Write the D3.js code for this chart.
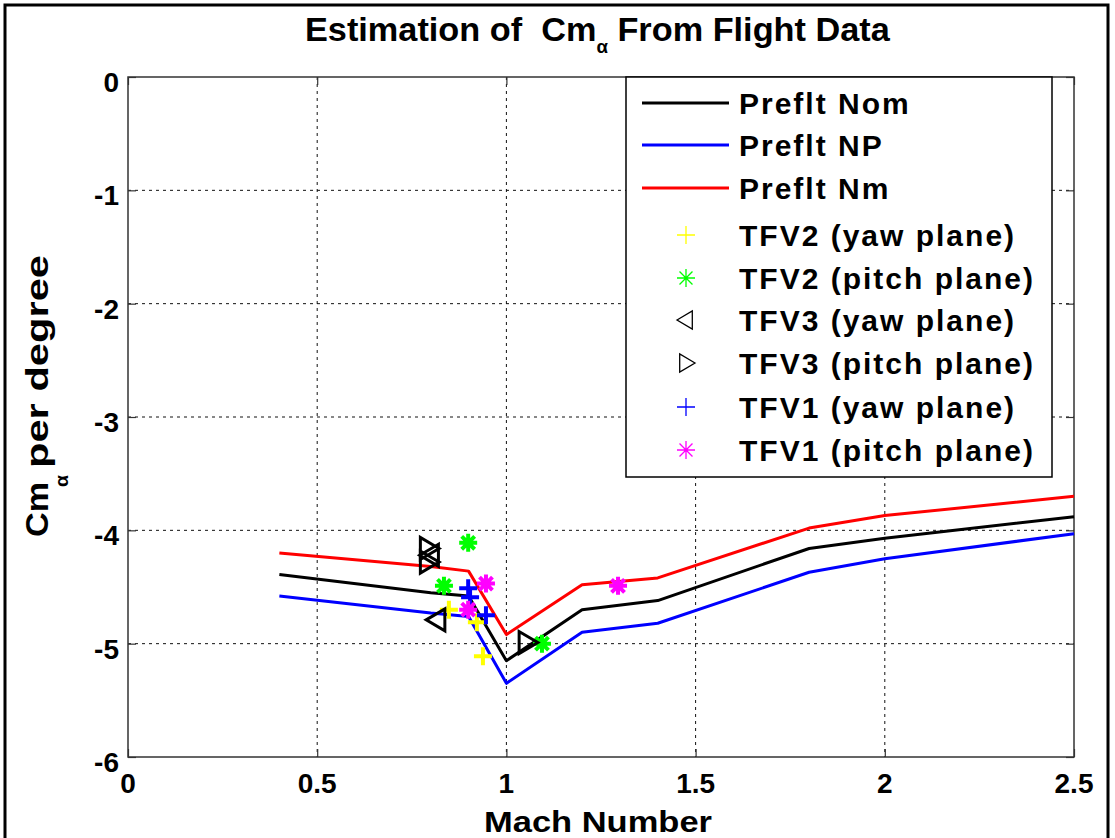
<!DOCTYPE html>
<html>
<head>
<meta charset="utf-8">
<script src="https://cdn.jsdelivr.net/npm/d3@7/dist/d3.min.js"></script>
<style>
  html, body { margin: 0; padding: 0; background: #fff; }
  svg { display: block; }
  text { font-family: "Liberation Sans", Arial, Helvetica, sans-serif; font-weight: bold; fill: #000; }
</style>
</head>
<body>
<svg id="chart" width="1115" height="838"></svg>
<script>
// Preflight prediction curves (Mach number vs Cm_alpha per degree)
const machPre = [0.4, 0.8, 0.9, 1.0, 1.2, 1.4, 1.8, 2.0, 2.5];
const prefltNom = [-4.39, -4.55, -4.58, -5.15, -4.70, -4.62, -4.16, -4.07, -3.88];
const prefltNP  = [-4.58, -4.73, -4.76, -5.35, -4.90, -4.82, -4.37, -4.25, -4.03];
const prefltNm  = [-4.20, -4.32, -4.36, -4.92, -4.48, -4.42, -3.98, -3.87, -3.70];

// Flight-test estimates, [mach, Cm_alpha]
const tfv2Yaw   = [[0.848, -4.70], [0.922, -4.81], [0.938, -5.11]];
const tfv2Pitch = [[0.899, -4.11], [0.835, -4.49], [1.094, -5.00]];
const tfv3Yaw   = [[0.817, -4.79], [0.800, -4.22]];
const tfv3Pitch = [[0.793, -4.16], [0.793, -4.28], [1.054, -4.99]];
const tfv1Yaw   = [[0.899, -4.51], [0.904, -4.59], [0.946, -4.75]];
const tfv1Pitch = [[0.946, -4.47], [0.899, -4.70], [1.295, -4.49]];

const xTicks = [0, 0.5, 1, 1.5, 2, 2.5];
const xTickLabels = ["0", "0.5", "1", "1.5", "2", "2.5"];
const yTicks = [0, -1, -2, -3, -4, -5, -6];
const yTickLabels = ["0", "-1", "-2", "-3", "-4", "-5", "-6"];

const svg = d3.select("#chart");
const plot = { left: 128, right: 1074, top: 77, bottom: 757 };

const x = d3.scaleLinear().domain([0, 2.5]).range([plot.left, plot.right]);
const y = d3.scaleLinear().domain([-6, 0]).range([plot.bottom, plot.top]);

// figure frame
svg.append("path")
  .attr("d", "M5,845 V5 H1108 V845")
  .attr("fill", "none").attr("stroke", "#000").attr("stroke-width", 3);

// text helper, optionally fitted to a given width
function label(g, str, px, py, size, width, anchor) {
  const t = g.append("text").attr("x", px).attr("y", py)
    .attr("font-size", size).attr("text-anchor", anchor || "start").text(str);
  if (width) t.attr("textLength", width).attr("lengthAdjust", "spacingAndGlyphs");
  return t;
}

// grid
const grid = svg.append("g");
grid.selectAll(".gx").data(xTicks.slice(1, -1)).join("line")
  .attr("x1", d => x(d)).attr("x2", d => x(d))
  .attr("y1", plot.top).attr("y2", plot.bottom)
  .attr("stroke", "#111").attr("stroke-width", 1).attr("stroke-dasharray", "3,4");
grid.selectAll(".gy").data(yTicks.slice(1, -1)).join("line")
  .attr("x1", plot.left).attr("x2", plot.right)
  .attr("y1", d => y(d)).attr("y2", d => y(d))
  .attr("stroke", "#111").attr("stroke-width", 1).attr("stroke-dasharray", "3,4");

// axes with inward ticks on all four sides
const axisStyle = g => {
  g.select(".domain").remove();
  g.selectAll(".tick line").attr("stroke", "#333").attr("stroke-width", 1.2);
  g.selectAll(".tick text").remove();
};
svg.append("g").attr("transform", `translate(0,${plot.bottom})`)
  .call(d3.axisBottom(x).tickValues(xTicks).tickSizeInner(-8).tickSizeOuter(0)).call(axisStyle);
svg.append("g").attr("transform", `translate(0,${plot.top})`)
  .call(d3.axisTop(x).tickValues(xTicks).tickSizeInner(-8).tickSizeOuter(0)).call(axisStyle);
svg.append("g").attr("transform", `translate(${plot.left},0)`)
  .call(d3.axisLeft(y).tickValues(yTicks).tickSizeInner(-8).tickSizeOuter(0)).call(axisStyle);
svg.append("g").attr("transform", `translate(${plot.right},0)`)
  .call(d3.axisRight(y).tickValues(yTicks).tickSizeInner(-8).tickSizeOuter(0)).call(axisStyle);

// plot box
svg.append("rect")
  .attr("x", plot.left).attr("y", plot.top)
  .attr("width", plot.right - plot.left).attr("height", plot.bottom - plot.top)
  .attr("fill", "none").attr("stroke", "#333").attr("stroke-width", 1.5);

// tick labels
const labels = svg.append("g");
xTicks.forEach((v, i) => label(labels, xTickLabels[i], x(v), 793, 28, null, "middle"));
yTicks.forEach((v, i) => label(labels, yTickLabels[i], 119, y(v) + 15, 28, null, "end"));

// prediction curves
const line = d3.line().x(d => x(d[0])).y(d => y(d[1]));
const curves = [
  { vals: prefltNom, color: "#000000" },
  { vals: prefltNP, color: "#0000ff" },
  { vals: prefltNm, color: "#ff0000" }
];
curves.forEach(c => {
  svg.append("path")
    .datum(machPre.map((m, i) => [m, c.vals[i]]))
    .attr("d", line)
    .attr("fill", "none").attr("stroke", c.color).attr("stroke-width", 3)
    .attr("stroke-linejoin", "round");
});

// marker shapes
function markerPath(type, r) {
  const d = r * 0.72;
  switch (type) {
    case "plus": return `M${-r},0H${r}M0,${-r}V${r}`;
    case "star": return `M${-r},0H${r}M0,${-r}V${r}M${-d},${-d}L${d},${d}M${-d},${d}L${d},${-d}`;
    case "tleft": return `M${-r},0L${r * 0.7},${-r}L${r * 0.7},${r}Z`;
    case "tright": return `M${r},0L${-r * 0.7},${-r}L${-r * 0.7},${r}Z`;
  }
}

const markerSets = [
  { data: tfv2Yaw, type: "plus", color: "#ffff00", name: "TFV2 (yaw plane)" },
  { data: tfv2Pitch, type: "star", color: "#00ff00", name: "TFV2 (pitch plane)" },
  { data: tfv3Yaw, type: "tleft", color: "#000000", name: "TFV3 (yaw plane)" },
  { data: tfv3Pitch, type: "tright", color: "#000000", name: "TFV3 (pitch plane)" },
  { data: tfv1Yaw, type: "plus", color: "#0000ff", name: "TFV1 (yaw plane)" },
  { data: tfv1Pitch, type: "star", color: "#ff00ff", name: "TFV1 (pitch plane)" }
];

markerSets.forEach(s => {
  const tri = s.type.startsWith("t");
  svg.append("g").selectAll("path").data(s.data).join("path")
    .attr("transform", d => `translate(${x(d[0])},${y(d[1])})`)
    .attr("d", markerPath(s.type, tri ? 11 : 9))
    .attr("fill", "none").attr("stroke", s.color)
    .attr("stroke-width", tri ? 3 : 4);
});

// legend
const lg = svg.append("g");
lg.append("rect").attr("x", 626).attr("y", 77).attr("width", 426).attr("height", 400)
  .attr("fill", "#fff").attr("stroke", "#000").attr("stroke-width", 1.5);
const rowY = [103, 145, 188, 235, 278, 320, 363, 407, 450];
const lineNames = ["Preflt Nom", "Preflt NP", "Preflt Nm"];
lineNames.forEach((n, i) => {
  lg.append("line").attr("x1", 642).attr("x2", 729).attr("y1", rowY[i]).attr("y2", rowY[i])
    .attr("stroke", curves[i].color).attr("stroke-width", 3);
  label(lg, n, 739, rowY[i] + 11, 30).attr("letter-spacing", 2);
});
markerSets.forEach((s, i) => {
  const cy = rowY[i + 3];
  lg.append("path").attr("transform", `translate(686,${cy})`)
    .attr("d", markerPath(s.type, 9))
    .attr("fill", "none").attr("stroke", s.color).attr("stroke-width", 1.3);
  label(lg, s.name, 739, cy + 11, 30).attr("letter-spacing", 2);
});

// title: one text run with a subscript, squeezed to its width
const title = svg.append("text")
  .attr("x", 0).attr("y", 0).attr("font-size", 33);
title.append("tspan").text("Estimation of\u00a0\u00a0Cm");
title.append("tspan").attr("font-size", 18).attr("dy", 12).text("α");
title.append("tspan").attr("dy", -12).text("\u00a0From Flight Data");
{
  const w = title.node().getComputedTextLength();
  const target = 585;
  title.attr("transform", `translate(305,41) scale(${target / w},1)`);
}

// axis labels
label(svg, "Mach Number", 598, 832, 30, 228, "middle");
const yl = svg.append("g").attr("transform", "translate(48,0) rotate(-90)");
label(yl, "Cm", -537, 0, 32, 55);
label(yl, "α", -487, 20, 18, 12);
label(yl, "per degree", -468, 0, 32, 213);
</script>
</body>
</html>
